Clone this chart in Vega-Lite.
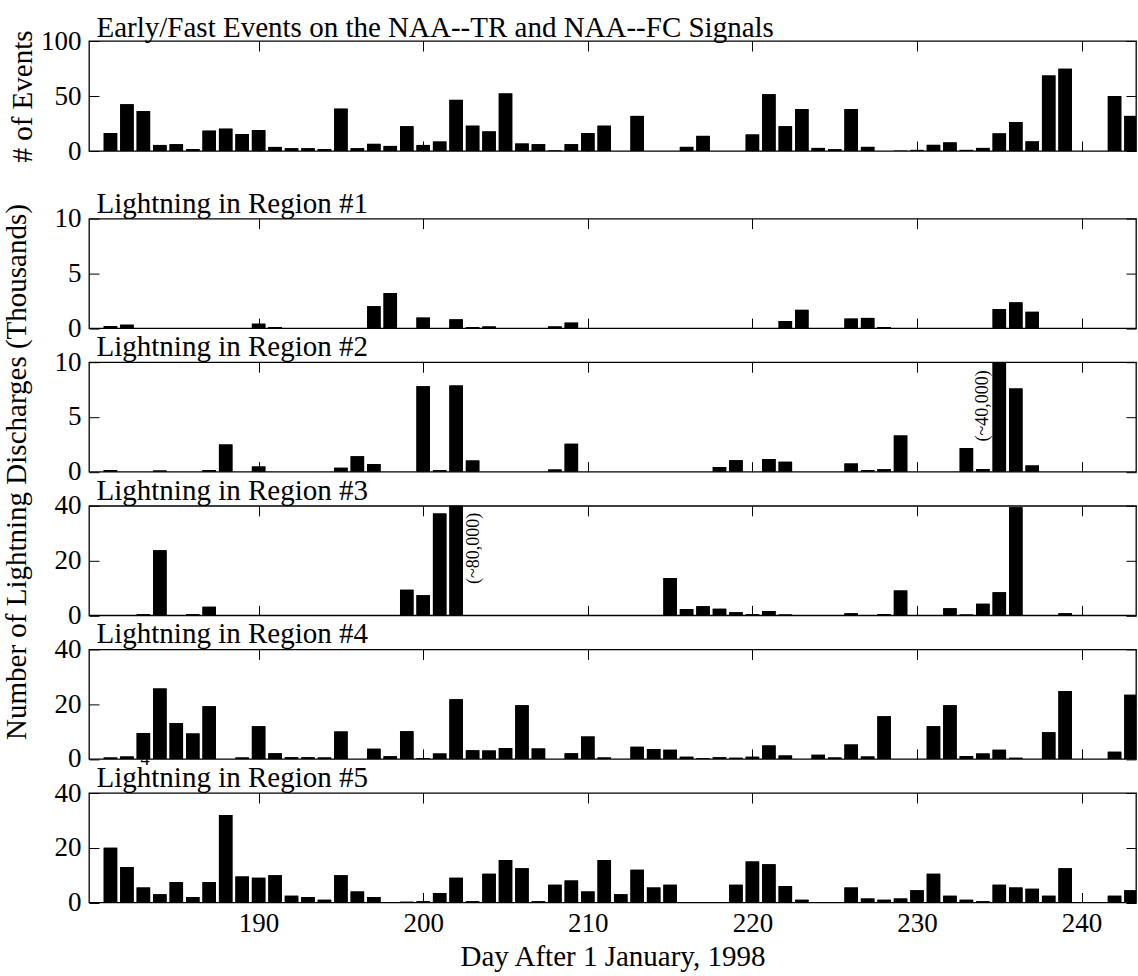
{
  "$schema": "https://vega.github.io/schema/vega-lite/v6.json",
  "background": "white",
  "padding": {"left": 1, "top": 12, "right": 0, "bottom": 0},
  "bounds": "flush",
  "spacing": 67.6,
  "config": {
    "font": "Liberation Serif",
    "view": {"stroke": "black", "strokeWidth": 1.3},
    "axis": {
      "domain": false, "grid": false,
      "tickColor": "black", "tickSize": -10, "tickWidth": 1,
      "labelFont": "Liberation Serif", "labelFontSize": 27, "labelColor": "black", "labelPadding": 18,
      "labelOverlap": false, "labelFlush": false,
      "titleFont": "Liberation Serif", "titleFontSize": 29, "titleFontWeight": "normal", "titleColor": "black"
    }
  },
  "datasets": {
    "events": [
      {"day": 181, "value": 16.3}, {"day": 182, "value": 42.5}, {"day": 183, "value": 36.3}, {"day": 184, "value": 5.5},
      {"day": 185, "value": 6.2}, {"day": 186, "value": 1.8}, {"day": 187, "value": 18.5}, {"day": 188, "value": 20.3},
      {"day": 189, "value": 15.4}, {"day": 190, "value": 19}, {"day": 191, "value": 3.7}, {"day": 192, "value": 2.5},
      {"day": 193, "value": 2.5}, {"day": 194, "value": 1.8}, {"day": 195, "value": 38.5}, {"day": 196, "value": 2.5},
      {"day": 197, "value": 6.5}, {"day": 198, "value": 4.6}, {"day": 199, "value": 22.5}, {"day": 200, "value": 5.5},
      {"day": 201, "value": 8.6}, {"day": 202, "value": 46.5}, {"day": 203, "value": 23}, {"day": 204, "value": 17.8},
      {"day": 205, "value": 52.3}, {"day": 206, "value": 6.8}, {"day": 207, "value": 6.2}, {"day": 208, "value": 0.5},
      {"day": 209, "value": 6.2}, {"day": 210, "value": 16.3}, {"day": 211, "value": 23}, {"day": 213, "value": 31.9},
      {"day": 216, "value": 3.75}, {"day": 217, "value": 13.75}, {"day": 220, "value": 15}, {"day": 221, "value": 51.6},
      {"day": 222, "value": 22.5}, {"day": 223, "value": 38.1}, {"day": 224, "value": 2.8}, {"day": 225, "value": 1.6},
      {"day": 226, "value": 38.1}, {"day": 227, "value": 3.75}, {"day": 229, "value": 0.3}, {"day": 230, "value": 1},
      {"day": 231, "value": 5.6}, {"day": 232, "value": 7.8}, {"day": 233, "value": 1}, {"day": 234, "value": 2.8},
      {"day": 235, "value": 16}, {"day": 236, "value": 26.3}, {"day": 237, "value": 8.75}, {"day": 238, "value": 68.75},
      {"day": 239, "value": 74.7}, {"day": 242, "value": 50}, {"day": 243, "value": 31.9}
    ],
    "r1": [
      {"day": 181, "value": 0.19}, {"day": 182, "value": 0.31}, {"day": 190, "value": 0.4}, {"day": 191, "value": 0.1},
      {"day": 197, "value": 2.0}, {"day": 198, "value": 3.2}, {"day": 200, "value": 0.96}, {"day": 202, "value": 0.8},
      {"day": 203, "value": 0.1}, {"day": 204, "value": 0.15}, {"day": 208, "value": 0.15}, {"day": 209, "value": 0.5},
      {"day": 222, "value": 0.65}, {"day": 223, "value": 1.67}, {"day": 226, "value": 0.87}, {"day": 227, "value": 0.93},
      {"day": 228, "value": 0.1}, {"day": 235, "value": 1.73}, {"day": 236, "value": 2.35}, {"day": 237, "value": 1.49}
    ],
    "r2": [
      {"day": 181, "value": 0.15}, {"day": 184, "value": 0.12}, {"day": 187, "value": 0.15}, {"day": 188, "value": 2.48},
      {"day": 190, "value": 0.47}, {"day": 195, "value": 0.37}, {"day": 196, "value": 1.4}, {"day": 197, "value": 0.71},
      {"day": 200, "value": 7.8}, {"day": 201, "value": 0.15}, {"day": 202, "value": 7.87}, {"day": 203, "value": 1.02},
      {"day": 208, "value": 0.2}, {"day": 209, "value": 2.55}, {"day": 218, "value": 0.44}, {"day": 219, "value": 1.04},
      {"day": 221, "value": 1.16}, {"day": 222, "value": 0.91}, {"day": 226, "value": 0.75}, {"day": 227, "value": 0.16},
      {"day": 228, "value": 0.22}, {"day": 229, "value": 3.3}, {"day": 233, "value": 2.17}, {"day": 234, "value": 0.25},
      {"day": 235, "value": 40}, {"day": 236, "value": 7.6}, {"day": 237, "value": 0.57}
    ],
    "r3": [
      {"day": 183, "value": 0.37}, {"day": 184, "value": 23.8}, {"day": 186, "value": 0.37}, {"day": 187, "value": 3.1},
      {"day": 199, "value": 9.3}, {"day": 200, "value": 7.35}, {"day": 201, "value": 37.2}, {"day": 202, "value": 80},
      {"day": 215, "value": 13.6}, {"day": 216, "value": 2.3}, {"day": 217, "value": 3.3}, {"day": 218, "value": 2.4},
      {"day": 219, "value": 1.1}, {"day": 220, "value": 0.4}, {"day": 221, "value": 1.6}, {"day": 222, "value": 0.25},
      {"day": 226, "value": 0.75}, {"day": 228, "value": 0.5}, {"day": 229, "value": 9.1}, {"day": 232, "value": 2.6},
      {"day": 233, "value": 0.25}, {"day": 234, "value": 4.2}, {"day": 235, "value": 8.4}, {"day": 236, "value": 39.5},
      {"day": 239, "value": 0.75}
    ],
    "r4": [
      {"day": 181, "value": 0.5}, {"day": 182, "value": 0.85}, {"day": 183, "value": 9.5}, {"day": 184, "value": 25.7},
      {"day": 185, "value": 13.1}, {"day": 186, "value": 9.3}, {"day": 187, "value": 19.2}, {"day": 189, "value": 0.5},
      {"day": 190, "value": 11.9}, {"day": 191, "value": 2.1}, {"day": 192, "value": 0.6}, {"day": 193, "value": 0.6},
      {"day": 194, "value": 0.5}, {"day": 195, "value": 10}, {"day": 197, "value": 3.7}, {"day": 198, "value": 1},
      {"day": 199, "value": 10.1}, {"day": 200, "value": 0.3}, {"day": 201, "value": 2}, {"day": 202, "value": 21.8},
      {"day": 203, "value": 3.2}, {"day": 204, "value": 3.1}, {"day": 205, "value": 4}, {"day": 206, "value": 19.6},
      {"day": 207, "value": 3.8}, {"day": 209, "value": 2.1}, {"day": 210, "value": 8.2}, {"day": 211, "value": 0.5},
      {"day": 213, "value": 4.4}, {"day": 214, "value": 3.6}, {"day": 215, "value": 3.3}, {"day": 216, "value": 0.75},
      {"day": 217, "value": 0.25}, {"day": 218, "value": 0.6}, {"day": 219, "value": 0.4}, {"day": 220, "value": 0.75},
      {"day": 221, "value": 4.9}, {"day": 222, "value": 1.26}, {"day": 224, "value": 1.5}, {"day": 225, "value": 0.5},
      {"day": 226, "value": 5.3}, {"day": 227, "value": 0.9}, {"day": 228, "value": 15.6}, {"day": 231, "value": 11.9},
      {"day": 232, "value": 19.6}, {"day": 233, "value": 1.1}, {"day": 234, "value": 2}, {"day": 235, "value": 3.3},
      {"day": 236, "value": 0.4}, {"day": 238, "value": 9.7}, {"day": 239, "value": 24.8}, {"day": 242, "value": 2.6},
      {"day": 243, "value": 23.4}
    ],
    "r5": [
      {"day": 181, "value": 20}, {"day": 182, "value": 13}, {"day": 183, "value": 5.5}, {"day": 184, "value": 3},
      {"day": 185, "value": 7.5}, {"day": 186, "value": 2}, {"day": 187, "value": 7.5}, {"day": 188, "value": 32},
      {"day": 189, "value": 9.5}, {"day": 190, "value": 9}, {"day": 191, "value": 10}, {"day": 192, "value": 2.5},
      {"day": 193, "value": 2}, {"day": 194, "value": 1}, {"day": 195, "value": 10}, {"day": 196, "value": 4},
      {"day": 197, "value": 2}, {"day": 199, "value": 0.3}, {"day": 200, "value": 0.5}, {"day": 201, "value": 3.5},
      {"day": 202, "value": 9}, {"day": 203, "value": 0.5}, {"day": 204, "value": 10.5}, {"day": 205, "value": 15.5},
      {"day": 206, "value": 12.5}, {"day": 207, "value": 0.5}, {"day": 208, "value": 6.5}, {"day": 209, "value": 8},
      {"day": 210, "value": 4}, {"day": 211, "value": 15.5}, {"day": 212, "value": 3}, {"day": 213, "value": 12},
      {"day": 214, "value": 5.5}, {"day": 215, "value": 6.5}, {"day": 219, "value": 6.5}, {"day": 220, "value": 15},
      {"day": 221, "value": 14}, {"day": 222, "value": 6}, {"day": 223, "value": 1}, {"day": 226, "value": 5.5},
      {"day": 227, "value": 1.5}, {"day": 228, "value": 1}, {"day": 229, "value": 1.5}, {"day": 230, "value": 4.5},
      {"day": 231, "value": 10.5}, {"day": 232, "value": 2.5}, {"day": 233, "value": 1}, {"day": 234, "value": 0.5},
      {"day": 235, "value": 6.5}, {"day": 236, "value": 5.5}, {"day": 237, "value": 5}, {"day": 238, "value": 2.5},
      {"day": 239, "value": 12.5}, {"day": 242, "value": 2.5}, {"day": 243, "value": 4.5}
    ]
  },
  "vconcat": [
    {
      "width": 1047, "height": 110,
      "data": {"name": "events"},
      "layer": [
        {"mark": {"type": "bar", "color": "black", "width": 13.5, "clip": true},
         "encoding": {
           "x": {"field": "day", "type": "quantitative", "scale": {"domain": [180, 243], "nice": false, "zero": false}, "axis": {"orient": "bottom", "values": [190, 200, 210, 220, 230, 240], "labels": false, "title": null}},
           "y": {"field": "value", "type": "quantitative", "scale": {"domain": [0, 100], "nice": false}, "axis": {"orient": "left", "values": [0, 50, 100], "title": "# of Events", "titlePadding": 3}}}},
        {"mark": {"type": "bar", "color": "black", "width": 13.5, "clip": true},
         "encoding": {
           "x": {"field": "day", "type": "quantitative", "axis": {"orient": "top", "values": [190, 200, 210, 220, 230, 240], "labels": false, "title": "Early/Fast Events on  the NAA--TR and NAA--FC Signals", "titleAnchor": "start", "titleAlign": "left", "titleBaseline": "alphabetic", "titlePadding": 4, "titleX": 7}},
           "y": {"field": "value", "type": "quantitative", "axis": {"orient": "right", "values": [0, 50, 100], "labels": false, "title": null}}}}
      ],
      "resolve": {"axis": {"x": "independent", "y": "independent"}}
    },
    {
      "bounds": "flush",
      "spacing": 33.6,
      "vconcat": [
        {
          "width": 1047, "height": 109.5,
          "data": {"name": "r1"},
          "layer": [
            {"mark": {"type": "bar", "color": "black", "width": 13.5, "clip": true},
             "encoding": {
               "x": {"field": "day", "type": "quantitative", "scale": {"domain": [180, 243], "nice": false, "zero": false}, "axis": {"orient": "bottom", "values": [190, 200, 210, 220, 230, 240], "labels": false, "title": null}},
               "y": {"field": "value", "type": "quantitative", "scale": {"domain": [0, 10], "nice": false}, "axis": {"orient": "left", "values": [0, 5, 10], "title": "Number of Lightning Discharges (Thousands)", "titleAnchor": "end", "titleAlign": "right", "titleY": -15, "titlePadding": 23}}}},
            {"mark": {"type": "bar", "color": "black", "width": 13.5, "clip": true},
             "encoding": {
               "x": {"field": "day", "type": "quantitative", "axis": {"orient": "top", "values": [190, 200, 210, 220, 230, 240], "labels": false, "title": "Lightning in Region #1", "titleAnchor": "start", "titleAlign": "left", "titleBaseline": "alphabetic", "titlePadding": 6, "titleX": 7}},
               "y": {"field": "value", "type": "quantitative", "axis": {"orient": "right", "values": [0, 5, 10], "labels": false, "title": null}}}}
          ],
          "resolve": {"axis": {"x": "independent", "y": "independent"}}
        },
        {
          "width": 1047, "height": 109.5,
          "layer": [
            {"data": {"name": "r2"},
             "mark": {"type": "bar", "color": "black", "width": 13.5, "clip": true},
             "encoding": {
               "x": {"field": "day", "type": "quantitative", "scale": {"domain": [180, 243], "nice": false, "zero": false}, "axis": {"orient": "bottom", "values": [190, 200, 210, 220, 230, 240], "labels": false, "title": null}},
               "y": {"field": "value", "type": "quantitative", "scale": {"domain": [0, 10], "nice": false}, "axis": {"orient": "left", "values": [0, 5, 10], "title": null}}}},
            {"data": {"name": "r2"},
             "mark": {"type": "bar", "color": "black", "width": 13.5, "clip": true},
             "encoding": {
               "x": {"field": "day", "type": "quantitative", "axis": {"orient": "top", "values": [190, 200, 210, 220, 230, 240], "labels": false, "title": "Lightning in Region #2", "titleAnchor": "start", "titleAlign": "left", "titleBaseline": "alphabetic", "titlePadding": 6, "titleX": 7}},
               "y": {"field": "value", "type": "quantitative", "axis": {"orient": "right", "values": [0, 5, 10], "labels": false, "title": null}}}},
            {"data": {"values": [{"day": 234.0, "value": 2.75, "label": "(~40,000)"}]},
             "mark": {"type": "text", "angle": 270, "align": "left", "baseline": "middle", "font": "Liberation Serif", "fontSize": 18, "color": "black"},
             "encoding": {
               "x": {"field": "day", "type": "quantitative", "axis": null},
               "y": {"field": "value", "type": "quantitative", "axis": null},
               "text": {"field": "label"}}}
          ],
          "resolve": {"axis": {"x": "independent", "y": "independent"}}
        },
        {
          "width": 1047, "height": 109.5,
          "layer": [
            {"data": {"name": "r3"},
             "mark": {"type": "bar", "color": "black", "width": 13.5, "clip": true},
             "encoding": {
               "x": {"field": "day", "type": "quantitative", "scale": {"domain": [180, 243], "nice": false, "zero": false}, "axis": {"orient": "bottom", "values": [190, 200, 210, 220, 230, 240], "labels": false, "title": null}},
               "y": {"field": "value", "type": "quantitative", "scale": {"domain": [0, 40], "nice": false}, "axis": {"orient": "left", "values": [0, 20, 40], "title": null}}}},
            {"data": {"name": "r3"},
             "mark": {"type": "bar", "color": "black", "width": 13.5, "clip": true},
             "encoding": {
               "x": {"field": "day", "type": "quantitative", "axis": {"orient": "top", "values": [190, 200, 210, 220, 230, 240], "labels": false, "title": "Lightning in Region #3", "titleAnchor": "start", "titleAlign": "left", "titleBaseline": "alphabetic", "titlePadding": 6, "titleX": 7}},
               "y": {"field": "value", "type": "quantitative", "axis": {"orient": "right", "values": [0, 20, 40], "labels": false, "title": null}}}},
            {"data": {"values": [{"day": 203.1, "value": 11.4, "label": "(~80,000)"}]},
             "mark": {"type": "text", "angle": 270, "align": "left", "baseline": "middle", "font": "Liberation Serif", "fontSize": 18, "color": "black"},
             "encoding": {
               "x": {"field": "day", "type": "quantitative", "axis": null},
               "y": {"field": "value", "type": "quantitative", "axis": null},
               "text": {"field": "label"}}}
          ],
          "resolve": {"axis": {"x": "independent", "y": "independent"}}
        },
        {
          "width": 1047, "height": 109.5,
          "layer": [
            {"data": {"name": "r4"},
             "mark": {"type": "bar", "color": "black", "width": 13.5, "clip": true},
             "encoding": {
               "x": {"field": "day", "type": "quantitative", "scale": {"domain": [180, 243], "nice": false, "zero": false}, "axis": {"orient": "bottom", "values": [190, 200, 210, 220, 230, 240], "labels": false, "title": null}},
               "y": {"field": "value", "type": "quantitative", "scale": {"domain": [0, 40], "nice": false}, "axis": {"orient": "left", "values": [0, 20, 40], "title": null}}}},
            {"data": {"name": "r4"},
             "mark": {"type": "bar", "color": "black", "width": 13.5, "clip": true},
             "encoding": {
               "x": {"field": "day", "type": "quantitative", "axis": {"orient": "top", "values": [190, 200, 210, 220, 230, 240], "labels": false, "title": "Lightning in Region #4", "titleAnchor": "start", "titleAlign": "left", "titleBaseline": "alphabetic", "titlePadding": 6, "titleX": 7}},
               "y": {"field": "value", "type": "quantitative", "axis": {"orient": "right", "values": [0, 20, 40], "labels": false, "title": null}}}},
            {"data": {"values": [{"day": 183.1, "value": -2.2, "label": "4"}]},
             "mark": {"type": "text", "align": "center", "baseline": "alphabetic", "font": "Liberation Serif", "fontSize": 18, "color": "black"},
             "encoding": {
               "x": {"field": "day", "type": "quantitative", "axis": null},
               "y": {"field": "value", "type": "quantitative", "axis": null},
               "text": {"field": "label"}}}
          ],
          "resolve": {"axis": {"x": "independent", "y": "independent"}}
        },
        {
          "width": 1047, "height": 109.5,
          "data": {"name": "r5"},
          "layer": [
            {"mark": {"type": "bar", "color": "black", "width": 13.5, "clip": true},
             "encoding": {
               "x": {"field": "day", "type": "quantitative", "scale": {"domain": [180, 243], "nice": false, "zero": false}, "axis": {"orient": "bottom", "values": [190, 200, 210, 220, 230, 240], "title": "Day After 1 January, 1998", "titlePadding": 6}},
               "y": {"field": "value", "type": "quantitative", "scale": {"domain": [0, 40], "nice": false}, "axis": {"orient": "left", "values": [0, 20, 40], "title": null}}}},
            {"mark": {"type": "bar", "color": "black", "width": 13.5, "clip": true},
             "encoding": {
               "x": {"field": "day", "type": "quantitative", "axis": {"orient": "top", "values": [190, 200, 210, 220, 230, 240], "labels": false, "title": "Lightning in Region #5", "titleAnchor": "start", "titleAlign": "left", "titleBaseline": "alphabetic", "titlePadding": 6, "titleX": 7}},
               "y": {"field": "value", "type": "quantitative", "axis": {"orient": "right", "values": [0, 20, 40], "labels": false, "title": null}}}}
          ],
          "resolve": {"axis": {"x": "independent", "y": "independent"}}
        }
      ]
    }
  ]
}
